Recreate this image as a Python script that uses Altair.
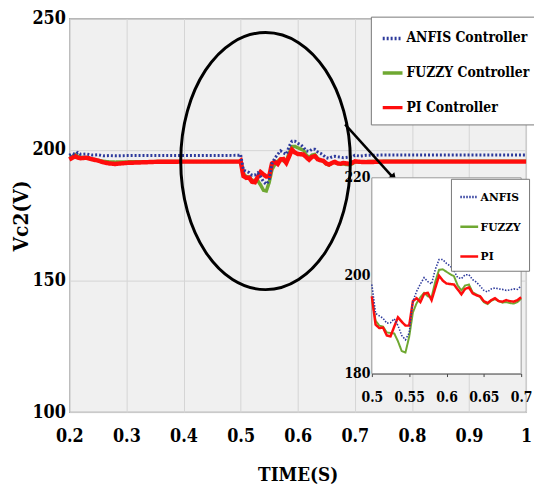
import altair as alt
import pandas as pd

SERIES = ["ANFIS Controller", "FUZZY Controller", "PI Controller"]
SHORT = ["ANFIS", "FUZZY", "PI"]
COLORS = ["#2d3a9c", "#6fa832", "#ff0d0d"]

time = [0.200, 0.205, 0.210, 0.215, 0.220, 0.230, 0.240, 0.250, 0.260, 0.270, 0.280,
        0.300, 0.350, 0.400, 0.450, 0.498,
        0.500, 0.505, 0.510, 0.515, 0.520, 0.525, 0.530, 0.535, 0.540, 0.545,
        0.550, 0.555, 0.560, 0.565, 0.570, 0.575, 0.580, 0.585, 0.590, 0.595,
        0.600, 0.605, 0.610, 0.615, 0.620, 0.625, 0.630, 0.635, 0.640, 0.645,
        0.650, 0.655, 0.660, 0.665, 0.670, 0.675, 0.680, 0.685, 0.690, 0.695, 0.700,
        0.710, 0.720, 0.750, 0.800, 0.850, 0.900, 0.950, 1.000]

anfis = [197.9, 198.6, 198.3, 199.0, 198.3, 198.4, 198.0, 198.1, 197.7, 197.8, 197.7,
         197.8, 197.8, 197.8, 197.8, 197.9,
         198.2, 192.3, 191.8, 191.3, 190.3, 190.4, 191.2, 189.8, 187.8, 186.9,
         188.3, 194.8, 196.8, 198.3, 199.6, 198.8, 198.3, 201.3, 203.3, 203.3,
         202.5, 202.0, 201.0, 199.6, 199.4, 200.2, 200.2, 199.2, 198.7, 197.9,
         197.0, 196.7, 197.3, 197.5, 197.3, 197.2, 197.0, 197.1, 197.3, 197.2, 197.9,
         197.6, 197.9, 198.0, 198.0, 198.0, 198.0, 198.0, 198.0]

fuzzy = [197.6, 197.2, 198.2, 197.6, 197.1, 197.0, 196.4, 196.0, 195.6, 195.4, 195.3,
         195.4, 195.5, 195.5, 195.5, 195.5,
         195.5, 190.8, 189.8, 189.6, 188.4, 188.3, 188.2, 186.6, 184.6, 184.3,
         187.5, 192.5, 194.4, 195.6, 196.5, 195.8, 195.6, 198.8, 201.2, 201.3,
         200.8, 200.3, 199.9, 198.0, 197.0, 198.0, 198.2, 196.6, 196.2, 195.6,
         194.6, 194.2, 194.9, 195.2, 194.8, 194.5, 194.6, 194.4, 194.3, 194.6, 195.3,
         195.3, 195.5, 195.6, 195.6, 195.6, 195.6, 195.6, 195.6]

pi = [196.3, 196.9, 197.6, 197.0, 196.8, 197.0, 196.4, 195.9, 195.2, 194.8, 194.6,
      195.0, 195.4, 195.5, 195.5, 195.5,
      195.8, 190.0, 189.3, 189.4, 187.8, 187.6, 189.6, 191.5, 190.6, 189.8,
      189.8, 194.8, 195.4, 194.6, 196.3, 196.5, 195.0, 197.5, 200.0, 199.0,
      198.4, 198.3, 198.2, 197.2, 196.2, 197.3, 197.6, 196.4, 196.0, 195.8,
      194.8, 194.4, 195.0, 195.4, 194.8, 194.7, 195.0, 194.8, 194.7, 195.0, 195.6,
      195.4, 195.3, 195.5, 195.5, 195.5, 195.5, 195.5, 195.5]

x_ticks = [0.2, 0.3, 0.4, 0.5, 0.6, 0.7, 0.8, 0.9, 1.0]
y_ticks = [100, 150, 200, 250]
inset_x_ticks = [0.5, 0.55, 0.6, 0.65, 0.7]
inset_y_ticks = [180, 200, 220]

rows = []
for name, short, vals in zip(SERIES, SHORT, [anfis, fuzzy, pi]):
    for t, v in zip(time, vals):
        rows.append({"t": t, "v": v, "series": name, "short": short})
df = pd.DataFrame(rows)
inset_df = df[(df["t"] >= 0.5) & (df["t"] <= 0.7)]

FONT = "'DejaVu Serif Condensed', 'Liberation Serif', 'DejaVu Serif', serif"
W, H = 462, 398

main_x_axis = alt.Axis(values=x_ticks, format=".1~f", labelFont=FONT, labelFontWeight="bold",
                       labelFontSize=18, labelColor="black", labelPadding=16, ticks=False,
                       domain=False, grid=True, gridColor="#d4d4d4", gridWidth=1,
                       labelFlush=False, title="TIME(S)", titleFont=FONT, titleFontSize=19,
                       titleFontWeight="bold", titleColor="black", titlePadding=20)
main_y_axis = alt.Axis(values=y_ticks, labelFont=FONT, labelFontWeight="bold",
                       labelFontSize=18, labelColor="black", labelPadding=4, ticks=False,
                       domain=False, grid=True, gridColor="#d4d4d4", gridWidth=1,
                       labelFlush=False, title="Vc2(V)", titleFont=FONT, titleFontSize=21,
                       titleFontWeight="bold", titleColor="black", titleX=-38, titleY=199,
                       titleAngle=270, titleBaseline="bottom", titleAlign="center")
xs = alt.Scale(domain=[0.2, 1.0], nice=False)
ys = alt.Scale(domain=[100, 250], nice=False, zero=False)


def MX(field="t"):
    return alt.X(f"{field}:Q", scale=xs, axis=main_x_axis, title="TIME(S)")


def MY(field="v"):
    return alt.Y(f"{field}:Q", scale=ys, axis=main_y_axis, title="Vc2(V)")


main_legend = alt.Legend(orient="none", legendX=305, legendY=-2, title=None,
                         fillColor="white", strokeColor="#777", padding=10,
                         labelFont=FONT, labelFontWeight="bold", labelFontSize=14,
                         labelColor="black", symbolType="stroke", symbolSize=400,
                         symbolStrokeWidth=3.5, rowPadding=16, labelLimit=300, labelOffset=2)
main_color = alt.Color("series:N", scale=alt.Scale(domain=SERIES, range=COLORS), legend=main_legend)
main_dash = alt.StrokeDash("series:N", scale=alt.Scale(domain=SERIES, range=[[2, 2], [1, 0], [1, 0]]),
                           legend=main_legend)


def main_line(name, width):
    return alt.Chart(df).transform_filter(alt.datum.series == name).mark_line(
        strokeWidth=width).encode(x=MX(), y=MY(), color=main_color, strokeDash=main_dash)


# ellipse annotation (custom bezier path, aspect 0.66)
a, k = 0.66, 0.5523
ka = round(k * a, 4)
ELL = (f"M 0 -1 C {ka} -1 {a} -{k} {a} 0 C {a} {k} {ka} 1 0 1 "
       f"C -{ka} 1 -{a} {k} -{a} 0 C -{a} -{k} -{ka} -1 0 -1 Z")
ell_df = pd.DataFrame({"t": [0.5437], "v": [195.7]})
ellipse = alt.Chart(ell_df).mark_point(shape=ELL, size=67600, filled=False, color="black",
                                       strokeWidth=3, opacity=1).encode(x=MX(), y=MY())

arrow_df = pd.DataFrame({"t": [0.683], "v": [209.7], "t2": [0.768], "v2": [189.2]})
arrow = alt.Chart(arrow_df).mark_rule(color="black", strokeWidth=2.5).encode(
    x=MX(), y=MY(), x2="t2:Q", y2="v2:Q")
head = alt.Chart(arrow_df).mark_point(shape="triangle-up", size=80, filled=True, color="black",
                                      angle=138, opacity=1).encode(x=MX("t2"), y=MY("v2"))

main = alt.layer(main_line(SERIES[1], 3.5), main_line(SERIES[2], 4.5), main_line(SERIES[0], 3),
                 ellipse, arrow, head)

# inset
ixs = alt.Scale(domain=[0.5, 0.7], range=[306, 457], nice=False)
iys = alt.Scale(domain=[180, 220], range=[359, 161], nice=False, zero=False)
ix_axis = alt.Axis(orient="bottom", offset=-39, values=inset_x_ticks, format="~g", grid=False,
                   labelFont=FONT, labelFontWeight="bold", labelFontSize=14, labelColor="black",
                   labelPadding=14, tickSize=3, tickColor="#444", domainColor="#444",
                   labelFlush=False, title=None)
iy_axis = alt.Axis(orient="left", offset=-306, values=inset_y_ticks, grid=False,
                   labelFont=FONT, labelFontWeight="bold", labelFontSize=14, labelColor="black",
                   labelPadding=2, tickSize=0, domainColor="#444", labelFlush=False, title=None)


def IX(field="t"):
    return alt.X(f"{field}:Q", scale=ixs, axis=ix_axis, title=None)


def IY(field="v"):
    return alt.Y(f"{field}:Q", scale=iys, axis=iy_axis, title=None)


inset_legend = alt.Legend(orient="none", legendX=386, legendY=162, title=None,
                          fillColor="white", strokeColor="#777", padding=8,
                          labelFont=FONT, labelFontWeight="bold", labelFontSize=12,
                          labelColor="black", symbolType="stroke", symbolSize=324,
                          symbolStrokeWidth=2.5, rowPadding=13, labelLimit=200, labelOffset=1)
icolor = alt.Color("short:N", scale=alt.Scale(domain=SHORT, range=COLORS), legend=inset_legend)
idash = alt.StrokeDash("short:N", scale=alt.Scale(domain=SHORT, range=[[1.5, 1.5], [1, 0], [1, 0]]),
                       legend=inset_legend)

box_df = pd.DataFrame({"t": [0.5], "t2": [0.7], "v": [180], "v2": [220]})
box = alt.Chart(box_df).mark_rect(fill="white", stroke="#999", strokeWidth=1).encode(
    x=IX(), x2="t2:Q", y=IY(), y2="v2:Q")


def inset_line(name, width):
    return alt.Chart(inset_df).transform_filter(alt.datum.short == name).mark_line(
        strokeWidth=width).encode(x=IX(), y=IY(), color=icolor, strokeDash=idash)


inset = alt.layer(box, inset_line(SHORT[1], 2), inset_line(SHORT[2], 2.5), inset_line(SHORT[0], 1.6))

chart = alt.layer(main, inset).resolve_scale(
    x="independent", y="independent", color="independent", strokeDash="independent"
).resolve_axis(x="independent", y="independent").resolve_legend(
    color="independent", strokeDash="independent"
).properties(
    width=W, height=H, autosize=alt.AutoSizeParams(type="none"),
    padding={"left": 62, "top": 8, "right": 8, "bottom": 76}
).configure_view(fill="#f0f0f0", stroke="#888", strokeWidth=1.2)

chart.save("out.html", embed_options={"renderer": "svg", "actions": False})
